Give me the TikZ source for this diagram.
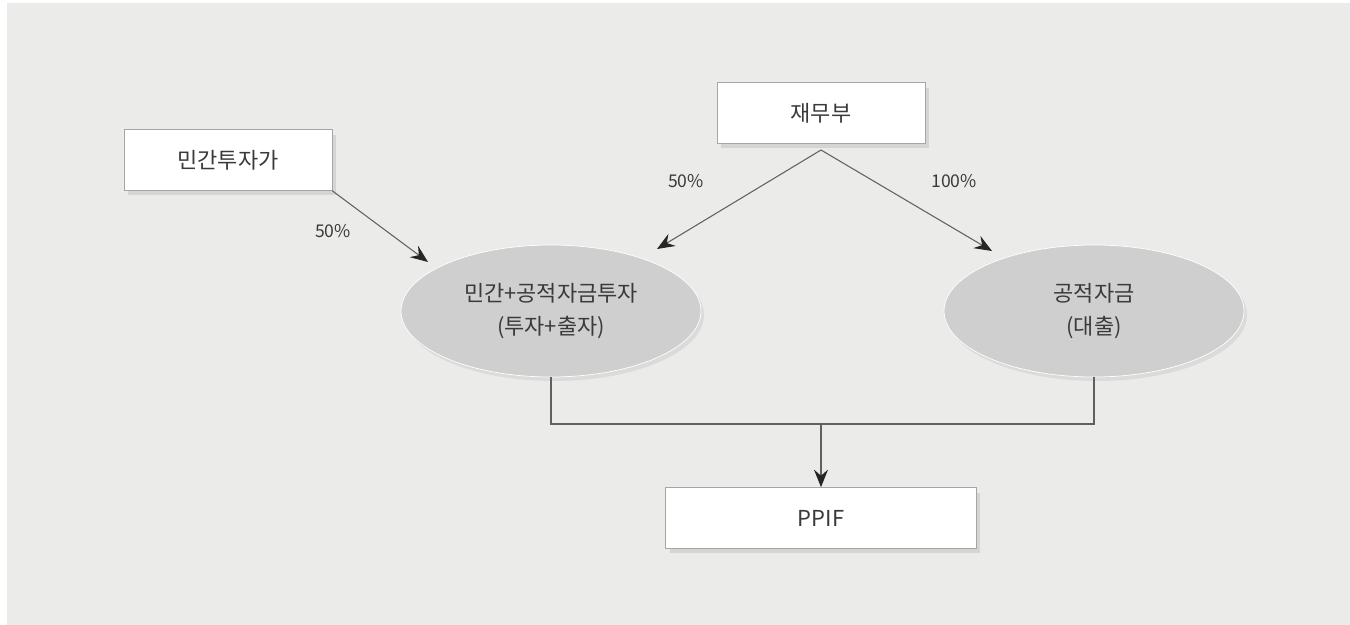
\documentclass[tikz,border=0pt]{standalone}
\usepackage{fontspec}
\setmainfont{Noto Sans CJK KR}
\usetikzlibrary{arrows.meta,shadows,shapes.geometric}
\definecolor{paper}{HTML}{EBEBEA}
\definecolor{ovalgray}{HTML}{CFCFCF}
\definecolor{linegray}{HTML}{606060}
\definecolor{textgray}{HTML}{3A3A3A}
\tikzset{
	boxnode/.style={draw=gray!70, fill=white, minimum width=4.16cm, minimum height=1.22cm,
		inner sep=0pt, text=textgray, font=\fontsize{12.5}{15}\selectfont,
		drop shadow={opacity=.2, shadow xshift=.08cm, shadow yshift=-.1cm}},
	ovalnode/.style={ellipse, draw=white, fill=ovalgray, minimum width=6cm, minimum height=2.64cm,
		inner sep=0pt, align=center, text=textgray, font=\fontsize{12.5}{19}\selectfont,
		drop shadow={opacity=.15, shadow xshift=.06cm, shadow yshift=-.08cm}},
	pct/.style={text=textgray, font=\fontsize{10}{12}\selectfont},
	flow/.style={draw=linegray, line width=.6pt},
	tip/.style={-{Stealth[length=10pt, width=8pt, inset=3.5pt, color=black!85]}}
}
\begin{document}
\begin{tikzpicture}[x=0.02cm, y=-0.02cm]
	\useasboundingbox (0,0) rectangle (1350,625);
	\fill[white] (0,0) rectangle (1350,625);
	\fill[paper] (7,3) rectangle (1350,625);

	\node[boxnode] (priv) at (228,160) {민간투자가};
	\node[boxnode] (treas) at (821,113) {재무부};
	\node[ovalnode] (mixed) at (551,311) {민간+공적자금투자\\(투자+출자)};
	\node[ovalnode] (loan) at (1094,311) {공적자금\\(대출)};
	\node[boxnode, minimum width=6.22cm] (ppif) at (821,518) {PPIF};

	\coordinate (top) at (821,150);
	\coordinate (bar) at (821,424);

	\draw[flow, tip] (priv.south east) -- (428,262);
	\draw[flow, tip] (top) -- (657,249);
	\draw[flow, tip] (top) -- (992,251);
	\draw[flow] (mixed.south) |- (bar) -| (loan.south);
	\draw[flow, tip] (bar) -- (ppif.north);

	\node[pct] (p1) at (333,231) {50\%};
	\node[pct] (p2) at (686,181) {50\%};
	\node[pct] (p3) at (954,181) {100\%};
\end{tikzpicture}
\end{document}
